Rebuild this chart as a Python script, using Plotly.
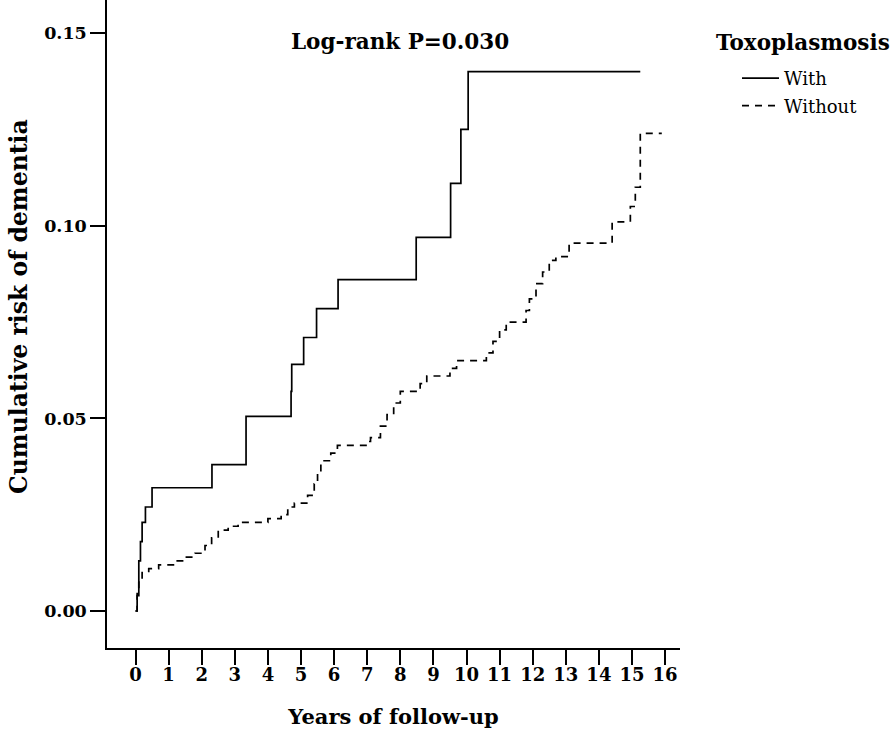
import plotly.graph_objects as go

# Toxoplasmosis "With" group: event times (years) and cumulative risk
with_t = [0.0, 0.05, 0.1, 0.15, 0.2, 0.3, 0.5, 2.31, 3.34, 4.70, 4.72, 5.08, 5.47, 6.12, 8.48, 9.52, 9.83, 10.05, 15.25]
with_risk = [0.0, 0.004, 0.013, 0.018, 0.023, 0.027, 0.032, 0.038, 0.0505, 0.057, 0.064, 0.071, 0.0785, 0.086, 0.097, 0.111, 0.125, 0.140, 0.140]

# "Without" group
without_t = [0.0, 0.05, 0.1, 0.2, 0.4, 0.7, 1.2, 1.5, 1.8, 2.1, 2.3, 2.5, 2.8, 3.1, 4.0, 4.4, 4.6, 4.8,
             5.2, 5.4, 5.5, 5.6, 5.9, 6.1, 7.0, 7.1, 7.4, 7.6, 7.8, 8.0, 8.6, 8.8, 9.5, 9.7,
             10.6, 10.8, 11.0, 11.2, 11.8, 11.9, 12.1, 12.3, 12.5, 12.7, 13.1, 14.4, 14.95, 15.1, 15.25, 15.9]
without_risk = [0.0, 0.005, 0.008, 0.010, 0.011, 0.012, 0.013, 0.014, 0.015, 0.017, 0.019, 0.021, 0.022, 0.023, 0.024, 0.025, 0.027, 0.028,
                0.030, 0.033, 0.036, 0.039, 0.041, 0.043, 0.044, 0.045, 0.048, 0.051, 0.054, 0.057, 0.059, 0.061, 0.063, 0.065,
                0.067, 0.070, 0.073, 0.075, 0.078, 0.081, 0.085, 0.088, 0.091, 0.092, 0.0955, 0.101, 0.105, 0.110, 0.124, 0.124]

x_ticks = list(range(0, 17))
y_ticks = [0.0, 0.05, 0.10, 0.15]
y_tick_labels = ["0.00", "0.05", "0.10", "0.15"]

serif = "DejaVu Serif, serif"
PL, PW, PH = 107, 573, 648  # plot-area left, width, height in px

fig = go.Figure()
fig.add_trace(go.Scatter(x=with_t, y=with_risk, mode="lines", line_shape="hv",
                         line=dict(color="black", width=1.7), name="With", legendgroup="a"))
fig.add_trace(go.Scatter(x=without_t, y=without_risk, mode="lines", line_shape="hv",
                         line=dict(color="black", width=1.7, dash="7px,6px"), name="Without", legendgroup="b"))

fig.add_annotation(text="<b>Log-rank P=0.030</b>", xref="paper", yref="paper",
                   x=(400 - PL) / PW, y=1 - 42 / PH, xanchor="center", yanchor="middle", showarrow=False,
                   font=dict(family=serif, size=21.5, color="black"))
fig.add_annotation(text="<b>Toxoplasmosis</b>", xref="paper", yref="paper",
                   x=(714 - PL) / PW, y=1 - 43 / PH, xanchor="left", yanchor="middle", showarrow=False,
                   font=dict(family=serif, size=21.5, color="black"))
fig.add_annotation(text="<b>Cumulative risk of dementia</b>", xref="paper", yref="paper",
                   x=(19 - PL) / PW, y=1 - 307 / PH, xanchor="center", yanchor="middle", showarrow=False,
                   textangle=-90, font=dict(family=serif, size=23.5, color="black"))

fig.update_layout(
    width=896, height=735,
    paper_bgcolor="white", plot_bgcolor="white",
    margin=dict(l=107, r=216, t=0, b=87),
    showlegend=True,
    legend=dict(
        font=dict(family=serif, size=18, color="black"),
        x=(713 - PL) / PW, y=1 - 60 / PH, xanchor="left", yanchor="top",
        bgcolor="rgba(0,0,0,0)", indentation=24, tracegroupgap=1, itemwidth=37,
    ),
    xaxis=dict(
        range=[-0.861, 16.45], tickmode="array", tickvals=x_ticks,
        ticktext=[f"<b>{v}</b>" for v in x_ticks],
        showline=True, linecolor="black", linewidth=1.5,
        ticks="outside", ticklen=15, tickwidth=1.5, tickcolor="black",
        ticklabelstandoff=-5,
        showgrid=False, zeroline=False,
        tickfont=dict(family=serif, size=18, color="black"),
        title=dict(text="<b>Years of follow-up</b>", font=dict(family=serif, size=21, color="black"), standoff=25),
    ),
    yaxis=dict(
        range=[-0.0096, 0.1586], tickmode="array", tickvals=y_ticks,
        ticktext=[f"<b>{t}</b>" for t in y_tick_labels],
        showline=True, linecolor="black", linewidth=1.5,
        ticks="outside", ticklen=15, tickwidth=1.5, tickcolor="black",
        showgrid=False, zeroline=False,
        tickfont=dict(family=serif, size=17.5, color="black"),
    ),
)

fig.write_html("out.html", config={"displayModeBar": False},
               post_script="document.body.style.margin='0';")
